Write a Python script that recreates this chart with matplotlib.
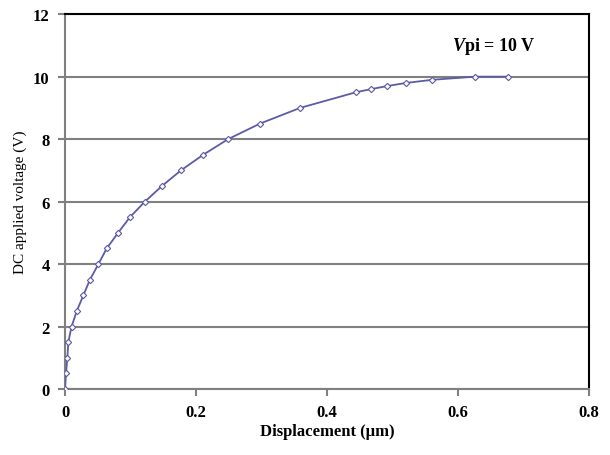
import matplotlib
matplotlib.use('Agg')
import matplotlib.pyplot as plt

# data
displacement = [0.0, 0.0015, 0.0036, 0.005, 0.010, 0.018, 0.028, 0.038, 0.051,
                0.0636, 0.081, 0.099, 0.122, 0.148, 0.177, 0.211, 0.249,
                0.298, 0.359, 0.444, 0.467, 0.492, 0.521, 0.561, 0.626, 0.677]
voltage = [0.0, 0.5, 1.0, 1.5, 2.0, 2.5, 3.0, 3.5, 4.0,
           4.5, 5.0, 5.5, 6.0, 6.5, 7.0, 7.5, 8.0,
           8.5, 9.0, 9.5, 9.6, 9.7, 9.8, 9.9, 10.0, 10.0]

plt.rcParams['font.family'] = ['Liberation Serif', 'DejaVu Serif']
plt.rcParams['mathtext.fontset'] = 'custom'
plt.rcParams['mathtext.rm'] = 'Liberation Serif'
plt.rcParams['mathtext.it'] = 'Liberation Serif:italic'
plt.rcParams['mathtext.bf'] = 'Liberation Serif:bold'
plt.rcParams['mathtext.bfit'] = 'Liberation Serif:italic:bold'

fig = plt.figure(figsize=(6.1, 4.56), dpi=100)
ax = fig.add_axes([0.1066, 0.1447, 0.859, 0.822])

col = '#5b5ba8'
ax.plot(displacement, voltage, color=col, lw=1.3, marker='D', ms=3.2,
        mfc='white', mec=col, mew=0.8, zorder=3)

ax.set_xlim(0, 0.8)
ax.set_ylim(0, 12)
ax.set_xticks([0, 0.2, 0.4, 0.6, 0.8])
ax.set_xticklabels(['0', '0.2', '0.4', '0.6', '0.8'])
ax.set_yticks(range(0, 13, 2))

ax.yaxis.grid(True, color='#808080', lw=1.5)
ax.set_axisbelow(True)

for s in ['left', 'bottom']:
    ax.spines[s].set_color('#808080')
    ax.spines[s].set_linewidth(1.5)
for s in ['top', 'right']:
    ax.spines[s].set_color('black')
    ax.spines[s].set_linewidth(1.5)

ax.tick_params(axis='both', direction='out', length=5, width=1.5,
               color='#808080', labelsize=12, pad=6)
for lbl in ax.get_xticklabels() + ax.get_yticklabels():
    lbl.set_fontweight('bold')

ax.set_xlabel('Displacement (\u00b5m)', fontsize=12, fontweight='bold', labelpad=2)
ax.set_ylabel('DC applied voltage (V)', fontsize=11, labelpad=4)

ax.text(0.655, 11.0, r'$\mathbfit{V}$pi = 10 V', fontsize=13, fontweight='bold',
        ha='center', va='center')

fig.savefig('out.png', dpi=100)
